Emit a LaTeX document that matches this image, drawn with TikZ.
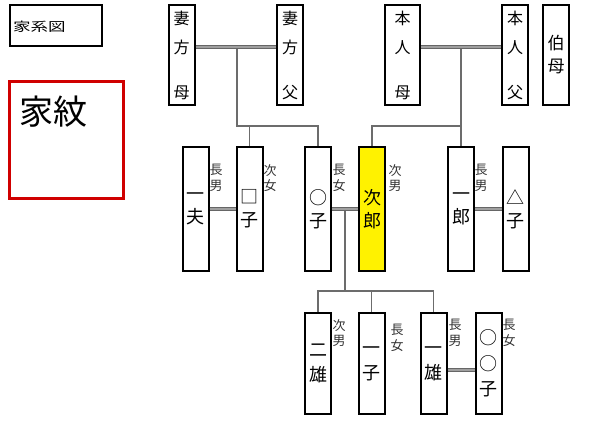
\documentclass[tikz,border=0pt]{standalone}
\usepackage{fontspec}
\setmainfont{Noto Sans CJK JP}
\definecolor{kamonred}{HTML}{D00000}
\begin{document}
\begin{tikzpicture}[x=1pt,y=-1pt,
  pbox/.style={draw=black, line width=2pt, fill=white, inner sep=0pt, minimum width=26pt, align=center},
  topbox/.style={pbox, minimum height=100pt, font=\fontsize{16}{29}\selectfont},
  midbox/.style={pbox, minimum height=124pt, font=\fontsize{18}{23}\selectfont},
  botbox/.style={pbox, minimum height=101pt, font=\fontsize{18}{25}\selectfont},
  rel/.style={inner sep=0pt, align=center, text=black!80, font=\fontsize{13}{15.5}\selectfont},
  marry/.style={draw=gray!80!black, line width=1.2pt, double=gray!75, double distance=1.1pt},
  child/.style={draw=gray!85!black, line width=1.2pt},
]
\fill[white] (0,0) rectangle (600,423);
\useasboundingbox (0,0) rectangle (600,423);

% title boxes
\node[draw=black, line width=2pt, minimum width=92pt, minimum height=41pt, inner sep=0pt] (title) at (56,25.5) {};
\node[anchor=west, inner sep=0pt, font=\fontsize{12.5}{14}\selectfont] (titletext) at (13,27) {\scalebox{1.4}[1]{家系図}};
\node[draw=kamonred, line width=2.2pt, minimum width=114pt, minimum height=117pt, inner sep=0pt] (kamon) at (66.5,140) {};
\node[anchor=west, inner sep=0pt, font=\fontsize{34}{36}\selectfont] (kamontext) at (19,112) {家紋};

% top generation
\node[topbox, minimum width=26pt] (tm) at (181.5,55) {妻\\方\\[16pt]母};
\node[topbox] (tf) at (290,55) {妻\\方\\[16pt]父};
\node[topbox, minimum width=35pt] (hm) at (402.5,55) {本\\人\\[16pt]母};
\node[topbox] (hf) at (515,55) {本\\人\\[16pt]父};
\node[topbox, font=\fontsize{17}{23}\selectfont] (ob) at (556,55) {伯\\母};

% middle generation
\node[midbox] (kazuo) at (195.5,209) {一\\夫};
\node[midbox] (shikaku) at (249.5,209) {□\\子};
\node[midbox] (maru) at (318,209) {○\\子};
\node[midbox, fill=yellow] (jiro) at (372,209) {次\\郎};
\node[midbox] (ichiro) at (461,209) {一\\郎};
\node[midbox] (sankaku) at (515.5,209) {△\\子};

% bottom generation
\node[botbox] (nio) at (318,363.5) {二\\雄};
\node[botbox] (ichiko) at (371.5,363.5) {一\\子};
\node[botbox] (ichio) at (433.5,363.5) {一\\雄};
\node[botbox, font=\fontsize{18}{25.5}\selectfont] (mmko) at (488.5,363.5) {○\\○\\子};

% relation labels
\node[rel] (l1) at (216,178) {長\\男};
\node[rel] (l2) at (270,178) {次\\女};
\node[rel] (l3) at (339,178) {長\\女};
\node[rel] (l4) at (395,178) {次\\男};
\node[rel] (l5) at (481,178) {長\\男};
\node[rel] (l6) at (339,333) {次\\男};
\node[rel] (l7) at (397,338) {長\\女};
\node[rel] (l8) at (455,333) {長\\男};
\node[rel] (l9) at (509,333) {長\\女};

% marriages
\draw[marry] ([yshift=8pt]tm.east) -- ([yshift=8pt]tf.west);
\draw[marry] ([yshift=8pt]hm.east) -- ([yshift=8pt]hf.west);
\draw[marry] (kazuo.east) -- (shikaku.west);
\draw[marry] (maru.east) -- (jiro.west);
\draw[marry] (ichiro.east) -- (sankaku.west);
\draw[marry] ([yshift=-6.5pt]ichio.east) -- ([yshift=-6.5pt]mmko.west);

% children lines
\coordinate (m1) at (237,48.5);
\coordinate (b1) at (237,126);
\draw[child] (m1) -- (b1) -| (maru.north);
\draw[child] (b1 -| shikaku.north) -- (shikaku.north);

\coordinate (m2) at (461,48.5);
\coordinate (b2) at (461,126);
\draw[child] (m2) -- (ichiro.north);
\draw[child] (b2) -| (jiro.north);

\coordinate (m3) at (345,210.5);
\coordinate (b3) at (345,291);
\draw[child] (m3) -- (b3);
\draw[child] (nio.north) |- (b3) -| (ichio.north);
\draw[child] (b3 -| ichiko.north) -- (ichiko.north);
\end{tikzpicture}
\end{document}
